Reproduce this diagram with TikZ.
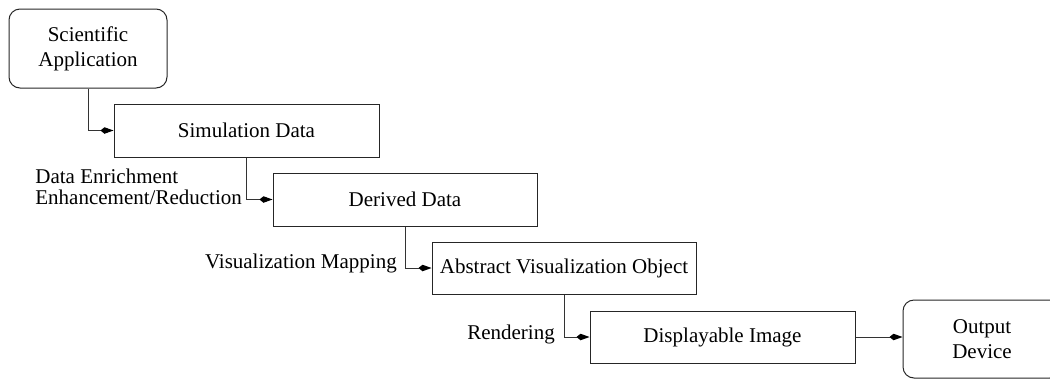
\documentclass[tikz,border=0pt]{standalone}
\usepackage{fontspec}
\setmainfont{Liberation Serif}
\usetikzlibrary{arrows.meta}
\begin{document}
\begin{tikzpicture}[x=1pt,y=-1pt,
  box/.style={draw=black!85,line width=1pt,inner sep=0pt,minimum width=265pt,minimum height=53pt,
    font=\fontsize{21}{25}\selectfont,align=center},
  endbox/.style={box,rounded corners=11pt,minimum width=158pt,minimum height=79pt},
  conn/.style={draw=black!80,line width=1pt,-{Kite[length=13pt,width=6.5pt,inset=4pt,fill=black,color=black]}},
  lbl/.style={inner sep=0pt,anchor=base east,font=\fontsize{21}{20}\selectfont}]
\clip (0,0) rectangle (1050,381);
\node[endbox] (sci) at (88,48.5) {Scientific\\Application};
\node[box] (sim) at (246.5,130.5) {Simulation Data};
\node[box,minimum width=264pt] (der) at (405,199.5) {Derived Data};
\node[box,minimum width=264pt,minimum height=52pt] (avo) at (564,268) {Abstract Visualization Object};
\node[box,minimum height=52pt] (disp) at (722.5,337) {Displayable Image};
\node[endbox,minimum height=78pt] (out) at (982,339) {Output\\Device};
\draw[conn] (sci.south) |- (sim.west);
\draw[conn] (sim.south) |- (der.west);
\draw[conn] (der.south) |- (avo.west);
\draw[conn] (avo.south) |- (disp.west);
\draw[conn] (disp.east) -- (out.west |- disp.east);
\node[lbl] (l1) at (242,204) {\begin{tabular}[b]{@{}l@{}}Data Enrichment\\Enhancement/Reduction\end{tabular}};
\node[lbl] (l2) at (397,268) {Visualization Mapping};
\node[lbl] (l3) at (555,339) {Rendering};
\end{tikzpicture}
\end{document}
